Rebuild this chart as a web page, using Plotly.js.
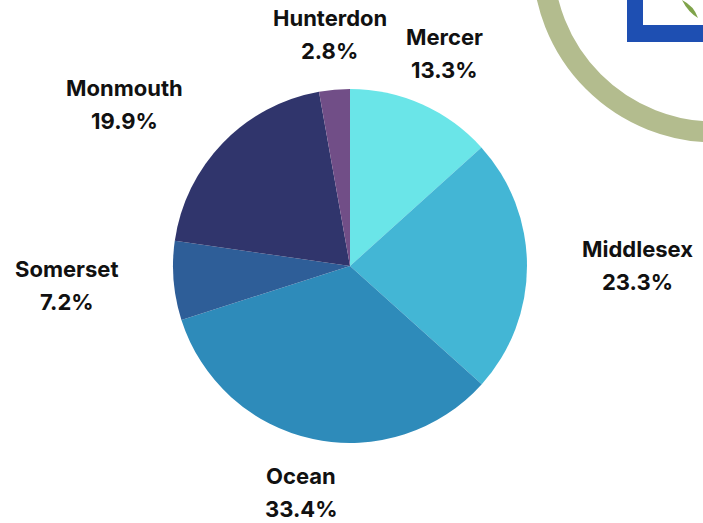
<!DOCTYPE html>
<html><head><meta charset="utf-8">
<script src="https://cdn.plot.ly/plotly-3.0.1.min.js"></script>
<style>html,body{margin:0;padding:0;background:#fff;}#chart{width:703px;height:523px;}</style>
</head><body><div id="chart"></div>
<script>
var counties = ["Mercer", "Middlesex", "Ocean", "Somerset", "Monmouth", "Hunterdon"];
var shares = [13.3, 23.3, 33.4, 7.2, 19.9, 2.8];
var sliceColors = ["#6AE5E8", "#43B6D5", "#2E8BBA", "#2E5E98", "#30356C", "#714E87"];

var W = 703, H = 523;
function px(x){return x/W;}
function py(y){return 1 - y/H;}
var cx = 350, cy = 266, R = 177, labelDist = 232, lineGap = 16.5;

var pieTrace = {
  type: "pie", values: shares, labels: counties, sort: false, direction: "clockwise", rotation: 0,
  marker: {colors: sliceColors, line: {width: 0}},
  textinfo: "none", hoverinfo: "label+value", showlegend: false,
  domain: {x: [px(cx-R), px(cx+R)], y: [py(cy+R), py(cy-R)]}
};

var fontSize = 22;
var labelFont = {family: "Inter", size: fontSize, color: "#111", weight: "bold"};
var ctx = document.createElement("canvas").getContext("2d");
ctx.font = "bold " + fontSize + "px Inter";
function textW(s){ return ctx.measureText(s).width; }

var total = shares.reduce(function(a,b){return a+b;}, 0);
var annotations = [];
var cum = 0;
shares.forEach(function(v, i){
  var mid = (cum + v/2) / total * 2 * Math.PI;
  cum += v;
  var vx = Math.sin(mid), vy = -Math.cos(mid);
  var lx = cx + labelDist*vx, ly = cy + labelDist*vy;
  var pct = v.toFixed(1) + "%";
  var blockW = Math.max(textW(counties[i]), textW(pct));
  if (Math.abs(vx) > Math.abs(vy)) lx += (vx > 0 ? 1 : -1) * blockW / 2;
  annotations.push({xref: "paper", yref: "paper", x: px(lx), y: py(ly), xanchor: "center", yanchor: "middle",
    yshift: lineGap, showarrow: false, text: counties[i], font: labelFont});
  annotations.push({xref: "paper", yref: "paper", x: px(lx), y: py(ly), xanchor: "center", yanchor: "middle",
    yshift: -lineGap, showarrow: false, text: pct, font: labelFont});
});

var ringR = 172, ringCx = 715, ringCy = -40;
var layout = {
  width: W, height: H, margin: {l:0, r:0, t:0, b:0},
  paper_bgcolor: "#fff", plot_bgcolor: "#fff", showlegend: false,
  annotations: annotations,
  shapes: [
    {type: "rect", xref: "paper", yref: "paper", x0: px(627), x1: px(720), y0: py(42), y1: py(-20),
     fillcolor: "#1E4FB2", line: {width: 0}, layer: "below"},
    {type: "rect", xref: "paper", yref: "paper", x0: px(643), x1: px(720), y0: py(25), y1: py(-20),
     fillcolor: "#ffffff", line: {width: 0}, layer: "below"},
    {type: "path", xref: "paper", yref: "paper", layer: "below",
     path: "M " + px(682) + "," + py(0) + " Q " + px(688) + "," + py(12) + " " + px(698) + "," + py(18) + " Q " + px(694) + "," + py(6) + " " + px(682) + "," + py(0) + " Z",
     fillcolor: "#7FA34A", line: {width: 0}},
    {type: "circle", xref: "paper", yref: "paper", layer: "below",
     x0: px(ringCx-ringR), x1: px(ringCx+ringR), y0: py(ringCy+ringR), y1: py(ringCy-ringR),
     line: {color: "#B3BC8E", width: 21}, fillcolor: "rgba(0,0,0,0)"}
  ]
};
Plotly.newPlot("chart", [pieTrace], layout, {displayModeBar: false, staticPlot: true});
</script></body></html>
